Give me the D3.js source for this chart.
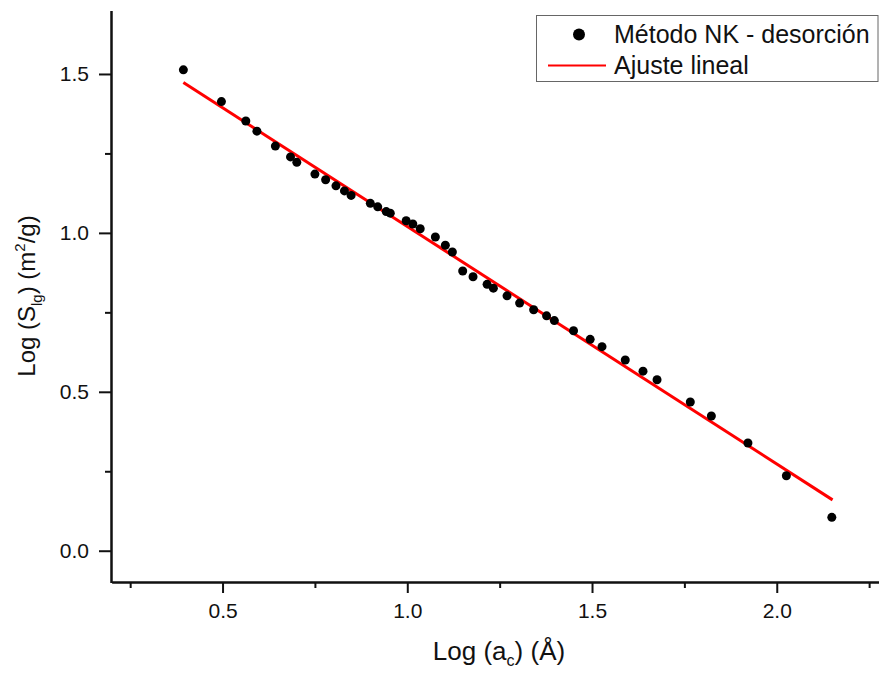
<!DOCTYPE html>
<html>
<head>
<meta charset="utf-8">
<script src="https://cdn.jsdelivr.net/npm/d3@7"></script>
<style>
  body { margin: 0; background: #fff; }
  text { font-family: Arial, "Liberation Sans", sans-serif; fill: #111; }
</style>
</head>
<body>
<div id="chart"></div>
<script>
// data: log(a_c) vs log(S_lg)
var logAc = [0.394, 0.497, 0.563, 0.593, 0.643, 0.684, 0.701, 0.750, 0.779, 0.807,
  0.830, 0.848, 0.900, 0.920, 0.943, 0.954, 0.997, 1.015, 1.035, 1.076,
  1.103, 1.122, 1.150, 1.178, 1.216, 1.233, 1.270, 1.304, 1.342, 1.377,
  1.398, 1.450, 1.495, 1.527, 1.590, 1.638, 1.676, 1.766, 1.823, 1.922,
  2.026, 2.149];
var logS = [1.513, 1.413, 1.352, 1.320, 1.273, 1.239, 1.222, 1.185, 1.167, 1.148,
  1.132, 1.118, 1.093, 1.082, 1.067, 1.062, 1.038, 1.028, 1.013, 0.987,
  0.961, 0.940, 0.880, 0.862, 0.838, 0.826, 0.802, 0.779, 0.758, 0.739,
  0.724, 0.692, 0.665, 0.642, 0.600, 0.565, 0.538, 0.468, 0.424, 0.339,
  0.236, 0.105];

// linear fit endpoints
var fitX = [0.394, 2.151];
var fitY = [1.473, 0.160];

var xMajor = [0.5, 1.0, 1.5, 2.0];
var xMinor = [0.25, 0.75, 1.25, 1.75, 2.25];
var yMajor = [0.0, 0.5, 1.0, 1.5];
var yMinor = [0.25, 0.75, 1.25];

var legendLabels = ["Método NK - desorción", "Ajuste lineal"];

var svgWidth = 879;
var svgHeight = 674;

var svg = d3.select("#chart")
  .append("svg")
  .attr("width", svgWidth)
  .attr("height", svgHeight);

var xScale = d3.scaleLinear().domain([0.2, 2.3]).range([111.7, 887.6]);
var yScale = d3.scaleLinear().domain([-0.1, 1.7]).range([582.5, 10.4]);

// x axis
var xAxisG = svg.append("g").attr("transform", "translate(0, 582)");
xAxisG.call(d3.axisBottom(xScale).tickValues(xMajor).tickSize(11).tickSizeOuter(0)
  .tickPadding(10).tickFormat(d3.format(".1f")));
xAxisG.append("g").call(d3.axisBottom(xScale).tickValues(xMinor).tickSize(6)
  .tickSizeOuter(0).tickFormat(""));

// y axis
var yAxisG = svg.append("g").attr("transform", "translate(111, 0)");
yAxisG.call(d3.axisLeft(yScale).tickValues(yMajor).tickSize(12).tickSizeOuter(0)
  .tickPadding(10).tickFormat(d3.format(".1f")));
yAxisG.append("g").call(d3.axisLeft(yScale).tickValues(yMinor).tickSize(6)
  .tickSizeOuter(0).tickFormat(""));

svg.selectAll(".domain").attr("stroke", "#111").attr("stroke-width", 2);
svg.selectAll(".tick line").attr("stroke", "#111").attr("stroke-width", 2);
svg.selectAll(".tick text")
  .style("font-size", "21px")
  .style("font-family", "Arial, 'Liberation Sans', sans-serif")
  .attr("fill", "#111");

// fit line
svg.append("line")
  .attr("x1", xScale(fitX[0]))
  .attr("y1", yScale(fitY[0]))
  .attr("x2", xScale(fitX[1]))
  .attr("y2", yScale(fitY[1]))
  .attr("stroke", "#ff0000")
  .attr("stroke-width", 3);

// points
svg.append("g")
  .selectAll("circle")
  .data(logAc)
  .enter()
  .append("circle")
  .attr("cx", (d) => xScale(d))
  .attr("cy", (d, i) => yScale(logS[i]))
  .attr("r", 4.5)
  .attr("fill", "#000");

// axis titles
var xTitle = svg.append("text")
  .attr("x", 499)
  .attr("y", 660)
  .attr("text-anchor", "middle")
  .style("font-size", "26px");
xTitle.append("tspan").text("Log (a");
xTitle.append("tspan").attr("dy", 6).style("font-size", "16px").text("c");
xTitle.append("tspan").attr("dy", -6).text(") (Å)");

var yTitle = svg.append("text")
  .attr("transform", "translate(35, 296) rotate(-90)")
  .attr("text-anchor", "middle")
  .style("font-size", "24px");
yTitle.append("tspan").text("Log (S");
yTitle.append("tspan").attr("dy", 7).style("font-size", "15px").text("lg");
yTitle.append("tspan").attr("dy", -7).text(") (m");
yTitle.append("tspan").attr("dy", -10).style("font-size", "15px").text("2");
yTitle.append("tspan").attr("dy", 10).text("/g)");

// legend
var legend = svg.append("g");
legend.append("rect")
  .attr("x", 536.5)
  .attr("y", 15.5)
  .attr("width", 341.5)
  .attr("height", 66)
  .attr("fill", "#fff")
  .attr("stroke", "#666")
  .attr("stroke-width", 1);
legend.append("circle")
  .attr("cx", 579)
  .attr("cy", 34.5)
  .attr("r", 6)
  .attr("fill", "#000");
legend.append("line")
  .attr("x1", 548).attr("x2", 606)
  .attr("y1", 65.5).attr("y2", 65.5)
  .attr("stroke", "#ff0000")
  .attr("stroke-width", 2);
legend.selectAll("text.lg")
  .data(legendLabels)
  .enter()
  .append("text")
  .attr("class", "lg")
  .attr("x", 614)
  .attr("y", (d, i) => 42.5 + i * 31.5)
  .style("font-size", "25px")
  .text((d) => d);
</script>
</body>
</html>
